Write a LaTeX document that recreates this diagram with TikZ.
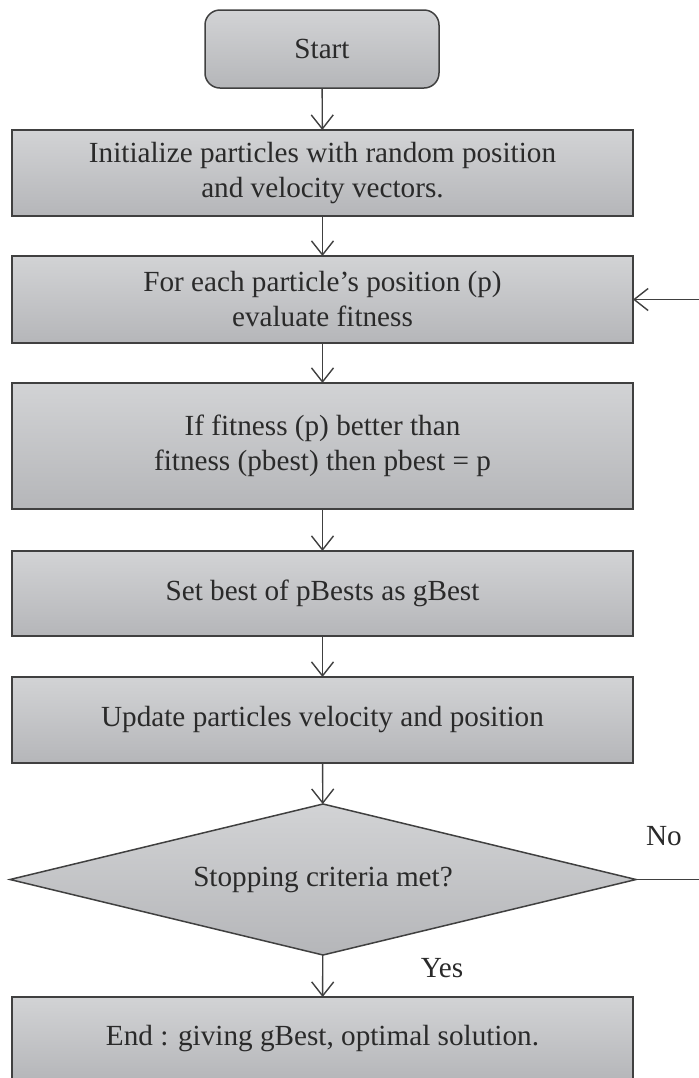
\documentclass[tikz,border=0pt]{standalone}
\usepackage{fontspec}
\setmainfont{Liberation Serif}
\usetikzlibrary{arrows.meta,shapes.geometric}

\definecolor{boxtop}{HTML}{D2D3D5}
\definecolor{boxbottom}{HTML}{B5B6B9}
\definecolor{boxline}{HTML}{404040}
\definecolor{inktext}{HTML}{2A2A2A}

\begin{document}
\begin{tikzpicture}[
  x=0.5pt, y=-0.5pt,
  every node/.style={font=\fontsize{14.6}{17.5}\selectfont, text=inktext, align=center},
  box/.style={rectangle, draw=boxline, line width=0.75pt, top color=boxtop, bottom color=boxbottom,
    minimum width=310.5pt, inner sep=0pt, outer sep=0pt},
  startbox/.style={box, rounded corners=7.5pt, minimum width=117pt, minimum height=39pt},
  decision/.style={diamond, aspect=4.15, draw=boxline, line width=0.75pt, top color=boxtop, bottom color=boxbottom,
    minimum width=313pt, minimum height=75.5pt, inner sep=0pt, outer sep=0pt},
  arrow/.style={-{Straight Barb[length=7pt, width=11pt]}, line width=0.7pt, draw=boxline}
  ]
  \useasboundingbox (0,0) rectangle (699,1078);

  % Define nodes
  \node[startbox] (start) at (322,49) {Start};
  \node[box, minimum height=43pt] (init) at (322.5,173)
    {Initialize particles with random position\\and velocity vectors.};
  \node[box, minimum height=43.5pt] (eval) at (322.5,299.5)
    {For each particle’s position (p)\\evaluate fitness};
  \node[box, minimum height=63pt] (pbest) at (322.5,446)
    {If fitness (p) better than\\fitness (pbest) then pbest = p};
  \node[box, minimum height=42.5pt] (gbest) at (322.5,593.5) {Set best of pBests as gBest};
  \node[box, minimum height=43pt] (update) at (322.5,720) {Update particles velocity and position};
  \node[decision] (check) at (323,879.5) {Stopping criteria met?};
  \node[box, minimum height=42pt] (finish) at (322.5,1039) {End : giving gBest, optimal solution.};

  \coordinate (loopin) at (699,299.5);
  \coordinate (noout) at (699,879.5);

  % Labels
  \node (no) at (664,836) {No};
  \node (yes) at (442,968) {Yes};

  % Draw arrows
  \draw[arrow] (start) -- (init);
  \draw[arrow] (init) -- (eval);
  \draw[arrow] (eval) -- (pbest);
  \draw[arrow] (pbest) -- (gbest);
  \draw[arrow] (gbest) -- (update);
  \draw[arrow] (update) -- (check);
  \draw[arrow] (check) -- (finish);
  \draw[arrow] (loopin) -- (eval.east);
  \draw[line width=0.7pt, draw=boxline] (check.east) -- (noout);
\end{tikzpicture}
\end{document}
